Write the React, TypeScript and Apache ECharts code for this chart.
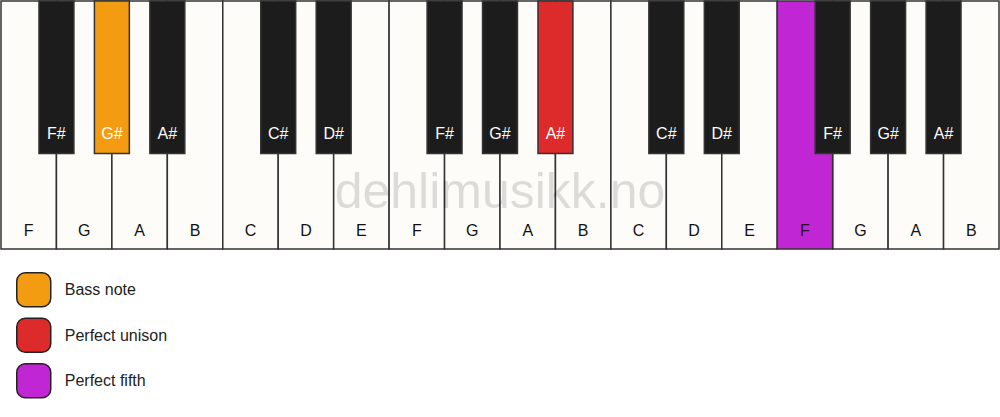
import { useEffect, useRef } from 'react'
import * as echarts from 'echarts'

// keyboard content
const whiteNotes = ['F', 'G', 'A', 'B', 'C', 'D', 'E', 'F', 'G', 'A', 'B', 'C', 'D', 'E', 'F', 'G', 'A', 'B']
const blackNotes = ['F#', 'G#', 'A#', 'C#', 'D#', 'F#', 'G#', 'A#', 'C#', 'D#', 'F#', 'G#', 'A#']
// black keys sit on the boundary between two white keys
const blackPositions = [1, 2, 3, 5, 6, 8, 9, 10, 12, 13, 15, 16, 17]

// highlighted keys
const bassNote = [2] // G# (black)
const perfectUnison = [10] // A# (black)
const perfectFifth = [14] // F (white)

const legendNames = ['Bass note', 'Perfect unison', 'Perfect fifth']
const colors = ['#f39c12', '#dd2a2a', '#c026d3']

const BLACK_LEN = 0.615
const BLACK_HALF = 0.315
const FONT = 'Arial, "Liberation Sans", sans-serif'

function whiteKey(api: any, x: number, fill: string, label: string, labelColor: string) {
  const tl = api.coord([x, 1])
  const br = api.coord([x + 1, 0])
  return {
    type: 'group',
    children: [
      {
        type: 'rect',
        shape: { x: tl[0], y: tl[1], width: br[0] - tl[0], height: br[1] - tl[1] },
        style: { fill, stroke: '#333', lineWidth: 1.5 },
      },
      {
        type: 'text',
        style: {
          text: label,
          x: (tl[0] + br[0]) / 2,
          y: br[1] - 19,
          align: 'center',
          verticalAlign: 'middle',
          fill: labelColor,
          font: `16px ${FONT}`,
        },
      },
    ],
  }
}

function blackKey(api: any, pos: number, fill: string, label: string) {
  const tl = api.coord([pos - BLACK_HALF, 1])
  const br = api.coord([pos + BLACK_HALF, 1 - BLACK_LEN])
  return {
    type: 'group',
    children: [
      {
        type: 'rect',
        shape: { x: tl[0], y: tl[1], width: br[0] - tl[0], height: br[1] - tl[1] },
        style: { fill, stroke: '#333', lineWidth: 1.5 },
      },
      {
        type: 'text',
        style: {
          text: label,
          x: (tl[0] + br[0]) / 2,
          y: br[1] - 20,
          align: 'center',
          verticalAlign: 'middle',
          fill: '#ffffff',
          font: `16px ${FONT}`,
        },
      },
    ],
  }
}

const blackLabel = (pos: number) => blackNotes[blackPositions.indexOf(pos)]

export default function App() {
  const chartRef = useRef<HTMLDivElement | null>(null)

  useEffect(() => {
    if (!chartRef.current) {
      return
    }

    const highlightedBlack = [...bassNote, ...perfectUnison]
    const plainWhite = whiteNotes.map((_, i) => i).filter((i) => !perfectFifth.includes(i))
    const plainBlack = blackPositions.filter((p) => !highlightedBlack.includes(p))

    const chart = echarts.init(chartRef.current, undefined, { renderer: 'svg' })
    chart.setOption({
      animation: false,
      grid: { left: 1, right: 1, top: 1, height: 248 },
      xAxis: { type: 'value', min: 0, max: whiteNotes.length, show: false },
      yAxis: { type: 'value', min: 0, max: 1, show: false },
      legend: {
        orient: 'vertical',
        left: 16,
        top: 272,
        padding: 0,
        itemWidth: 34,
        itemHeight: 34,
        itemGap: 10,
        icon: 'roundRect',
        itemStyle: { borderColor: '#222', borderWidth: 1.5 },
        textStyle: { fontSize: 16, color: '#222', fontFamily: FONT, padding: [0, 0, 0, 9] },
        selectedMode: false,
        data: legendNames,
      },
      graphic: [
        {
          type: 'text',
          z: 100,
          left: 'center',
          top: 166,
          silent: true,
          style: {
            text: 'dehlimusikk.no',
            fill: 'rgba(0, 0, 0, 0.13)',
            font: `50px ${FONT}`,
          },
        },
      ],
      series: [
        {
          type: 'custom',
          name: 'white',
          z: 1,
          data: plainWhite.map((i) => [i]),
          renderItem: (_params: any, api: any) => {
            const i = api.value(0)
            return whiteKey(api, i, '#fdfcf8', whiteNotes[i], '#111')
          },
        },
        {
          type: 'custom',
          name: legendNames[2],
          z: 1,
          itemStyle: { color: colors[2] },
          data: perfectFifth.map((i) => [i]),
          renderItem: (_params: any, api: any) => {
            const i = api.value(0)
            return whiteKey(api, i, colors[2], whiteNotes[i], '#2a0a2e')
          },
        },
        {
          type: 'custom',
          name: 'black',
          z: 2,
          data: plainBlack.map((p) => [p]),
          renderItem: (_params: any, api: any) => {
            const p = api.value(0)
            return blackKey(api, p, '#1c1c1c', blackLabel(p))
          },
        },
        {
          type: 'custom',
          name: legendNames[0],
          z: 3,
          itemStyle: { color: colors[0] },
          data: bassNote.map((p) => [p]),
          renderItem: (_params: any, api: any) => {
            const p = api.value(0)
            return blackKey(api, p, colors[0], blackLabel(p))
          },
        },
        {
          type: 'custom',
          name: legendNames[1],
          z: 3,
          itemStyle: { color: colors[1] },
          data: perfectUnison.map((p) => [p]),
          renderItem: (_params: any, api: any) => {
            const p = api.value(0)
            return blackKey(api, p, colors[1], blackLabel(p))
          },
        },
      ],
    })

    return () => {
      chart.dispose()
    }
  }, [])

  return (
    <div
      ref={chartRef}
      style={{ position: 'fixed', left: 0, top: 0, width: 1000, height: 417, background: '#ffffff' }}
    />
  )
}
